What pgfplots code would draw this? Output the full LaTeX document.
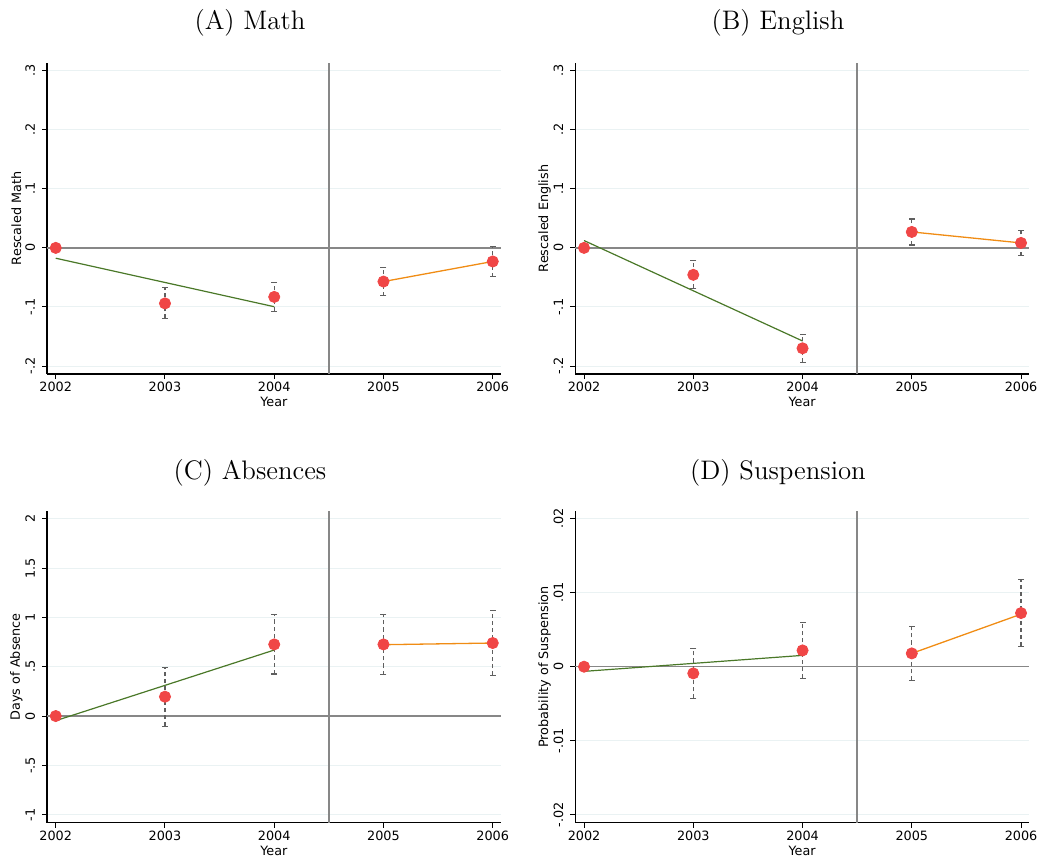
\documentclass[border=0pt]{standalone}
\usepackage{fontspec}
\setsansfont{DejaVu Sans}
\usepackage{pgfplots}
\pgfplotsset{compat=1.18}
\definecolor{gridc}{RGB}{234,242,243}
\definecolor{refc}{RGB}{135,135,135}
\definecolor{ptred}{RGB}{240,70,70}
\definecolor{fitgreen}{RGB}{74,120,40}
\definecolor{fitorange}{RGB}{240,140,20}
\definecolor{cigray}{RGB}{95,95,95}
\newcommand{\ticksfont}{\sffamily\fontsize{6.4}{7.5}\selectfont}
\pgfplotsset{
 panel/.style={
  scale only axis, width=226.85pt,
  axis x line*=bottom, axis y line*=left,
  xmin=2001.92, xmax=2006.073,
  xtick={2002,2003,2004,2005,2006}, xticklabels={2002,2003,2004,2005,2006},
  scaled y ticks=false, scaled x ticks=false,
  tick align=outside, major tick length=2.5pt,
  every tick/.style={black, line width=0.5pt},
  axis line style={black, line width=0.6pt, -},
  ymajorgrids, grid style={gridc, line width=0.5pt},
  xticklabel style={font=\ticksfont, inner sep=1pt, yshift=-0.3pt},
  yticklabel style={font=\ticksfont, rotate=90, anchor=south},
  xlabel={Year},
  every axis x label/.style={at={(axis description cs:0.5,0)}, yshift=-14.2pt, anchor=center, font=\ticksfont, inner sep=0pt},
  every axis y label/.style={at={(axis description cs:0,0.5)}, xshift=-15.3pt, rotate=90, anchor=center, font=\ticksfont},
  clip=false,
 },
 pts/.style={only marks, mark=*, mark size=2.8pt, mark options={fill=ptred, draw=ptred}},
 ci/.style={cigray, line width=0.65pt, dash pattern=on 2.1pt off 1.5pt, mark=-, mark size=1.5pt, mark options={solid, cigray, line width=0.6pt}},
 ref/.style={refc, line width=0.75pt, mark=none},
 fitg/.style={fitgreen, line width=0.6pt, mark=none},
 fito/.style={fitorange, line width=0.65pt, mark=none},
}
\begin{document}
\begin{tikzpicture}
\useasboundingbox (0,0) rectangle (521pt,429pt);
\node[anchor=base, font=\fontsize{13.4}{16}\selectfont] at (125pt,414pt) {(A) Math};
\node[anchor=base, font=\fontsize{13.4}{16}\selectfont] at (389pt,414pt) {(B) English};
\node[anchor=base, font=\fontsize{13.4}{16}\selectfont] at (125pt,189.5pt) {(C) Absences};
\node[anchor=base, font=\fontsize{13.4}{16}\selectfont] at (389pt,189.5pt) {(D) Suspension};

% (A) Math
\begin{axis}[panel, at={(23.5pt,242pt)}, anchor=south west, height=155.5pt,
  ymin=-0.2135, ymax=0.313,
  ytick={-0.2,-0.1,0,0.1,0.2,0.3}, yticklabels={-.2,-.1,0,.1,.2,.3},
  ylabel={Rescaled Math}]
\addplot[ref] coordinates {(2001.92,0) (2006.073,0)};
\addplot[ref] coordinates {(2004.5,-0.2135) (2004.5,0.313)};
\addplot[fitg] coordinates {(2002,-0.0175) (2004,-0.0996)};
\addplot[fito] coordinates {(2005,-0.057) (2006,-0.023)};
\addplot[pts] coordinates {(2002,0) (2003,-0.094) (2004,-0.083) (2005,-0.057) (2006,-0.023)};
\addplot[ci] coordinates {(2003,-0.1195) (2003,-0.0675)};
\addplot[ci] coordinates {(2004,-0.108) (2004,-0.058)};
\addplot[ci] coordinates {(2005,-0.081) (2005,-0.033)};
\addplot[ci] coordinates {(2006,-0.049) (2006,0.003)};
\end{axis}

% (B) English
\begin{axis}[panel, at={(287.65pt,242pt)}, anchor=south west, height=155.5pt,
  ymin=-0.2135, ymax=0.313,
  ytick={-0.2,-0.1,0,0.1,0.2,0.3}, yticklabels={-.2,-.1,0,.1,.2,.3},
  ylabel={Rescaled English}]
\addplot[ref] coordinates {(2001.92,0) (2006.073,0)};
\addplot[ref] coordinates {(2004.5,-0.2135) (2004.5,0.313)};
\addplot[fitg] coordinates {(2002,0.0124) (2004,-0.1576)};
\addplot[fito] coordinates {(2005,0.027) (2006,0.0084)};
\addplot[pts] coordinates {(2002,0) (2003,-0.0456) (2004,-0.170) (2005,0.027) (2006,0.0084)};
\addplot[ci] coordinates {(2003,-0.069) (2003,-0.022)};
\addplot[ci] coordinates {(2004,-0.194) (2004,-0.147)};
\addplot[ci] coordinates {(2005,0.005) (2005,0.049)};
\addplot[ci] coordinates {(2006,-0.0135) (2006,0.030)};
\end{axis}

% (C) Absences
\begin{axis}[panel, at={(23.5pt,17.65pt)}, anchor=south west, height=155.85pt,
  ymin=-1.081, ymax=2.078,
  ytick={-1,-0.5,0,0.5,1,1.5,2}, yticklabels={-1,-.5,0,.5,1,1.5,2},
  ylabel={Days of Absence}]
\addplot[ref] coordinates {(2001.92,0) (2006.073,0)};
\addplot[ref] coordinates {(2004.5,-1.081) (2004.5,2.078)};
\addplot[fitg] coordinates {(2002,-0.047) (2004,0.669)};
\addplot[fito] coordinates {(2005,0.723) (2006,0.74)};
\addplot[pts] coordinates {(2002,0) (2003,0.196) (2004,0.726) (2005,0.726) (2006,0.74)};
\addplot[ci] coordinates {(2003,-0.105) (2003,0.493)};
\addplot[ci] coordinates {(2004,0.426) (2004,1.03)};
\addplot[ci] coordinates {(2005,0.419) (2005,1.03)};
\addplot[ci] coordinates {(2006,0.412) (2006,1.068)};
\end{axis}

% (D) Suspension
\begin{axis}[panel, at={(287.65pt,17.65pt)}, anchor=south west, height=155.85pt,
  ymin=-0.02108, ymax=0.02104,
  ytick={-0.02,-0.01,0,0.01,0.02}, yticklabels={-.02,-.01,0,.01,.02},
  ylabel={Probability of Suspension}]
\addplot[ref] coordinates {(2001.92,0) (2006.073,0)};
\addplot[ref] coordinates {(2004.5,-0.02108) (2004.5,0.02104)};
\addplot[fitg] coordinates {(2002,-0.00063) (2004,0.00153)};
\addplot[fito] coordinates {(2005,0.0018) (2006,0.0071)};
\addplot[pts] coordinates {(2002,0) (2003,-0.0009) (2004,0.0022) (2005,0.0018) (2006,0.00725)};
\addplot[ci] coordinates {(2003,-0.00432) (2003,0.00248)};
\addplot[ci] coordinates {(2004,-0.00158) (2004,0.00595)};
\addplot[ci] coordinates {(2005,-0.00189) (2005,0.00545)};
\addplot[ci] coordinates {(2006,0.00275) (2006,0.01176)};
\end{axis}
\end{tikzpicture}
\end{document}
